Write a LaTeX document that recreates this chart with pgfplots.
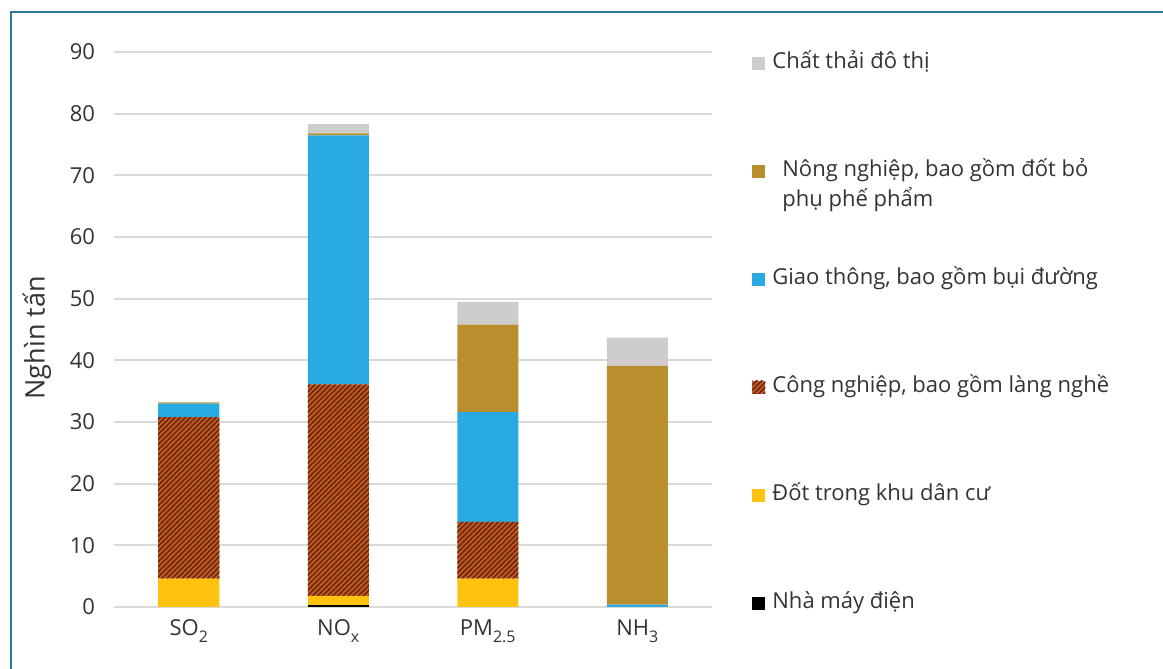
\documentclass[border=0pt]{standalone}
\usepackage{fontspec}
\setmainfont{Open Sans}
\usepackage{pgfplots}
\pgfplotsset{compat=1.18}
\usetikzlibrary{patterns.meta}
\definecolor{cwaste}{HTML}{CFCDCC}
\definecolor{cagri}{HTML}{B98E2F}
\definecolor{ctrans}{HTML}{29ABE2}
\definecolor{cind}{HTML}{C8561F}
\definecolor{cindd}{HTML}{5A2713}
\definecolor{cres}{HTML}{FFC20F}
\definecolor{cframe}{HTML}{2B7A99}
\definecolor{cgrid}{HTML}{D9D9D9}
\definecolor{ctext}{HTML}{333333}
\newcommand{\sub}[1]{\raisebox{-3.2pt}{\fontsize{8}{8}\selectfont #1}}
\begin{document}
\begin{tikzpicture}[x=1pt,y=1pt]
\useasboundingbox (0,0) rectangle (581.5,334.5);
\draw[cframe, line width=0.8pt] (5.5,0) -- (5.5,328.5) -- (581.5,328.5);
\begin{axis}[
  at={(57pt,31pt)}, anchor=south west,
  scale only axis, width=299pt, height=277.5pt,
  ybar stacked, bar width=30.5pt,
  xmin=-0.5, xmax=3.5, ymin=0, ymax=90,
  xtick={0,1,2,3},
  xticklabels={SO\sub{2}, NO\sub{x}, PM\sub{2.5}, NH\sub{3}},
  ytick={0,10,...,90},
  ymajorgrids, major grid style={cgrid, line width=1pt},
  axis line style={draw=none},
  major tick length=0pt,
  font=\fontsize{11}{13.2}\selectfont,
  tick label style={text=ctext},
  /pgf/number format/assume math mode=true,
  yticklabel style={anchor=east, xshift=-6pt},
  xticklabel style={anchor=base, yshift=-14.5pt},
  ylabel={Nghìn tấn},
  y label style={at={(axis description cs:-0.1288,0.485)}, anchor=center, text=ctext, font=\fontsize{13.5}{16}\selectfont},
  reverse legend,
  legend image code/.code={\fill[#1] (0pt,-3.25pt) rectangle (6.5pt,3.25pt);},
  legend style={at={(1.0669,1.005)}, anchor=north west, draw=none, fill=none,
    inner sep=0pt, row sep=40.5pt, text=ctext,
    nodes={text height=8pt, text depth=2.5pt, inner sep=1.5pt},
    /tikz/every odd column/.append style={column sep=2pt},
    cells={anchor=west}},
]
\addplot+[draw=none, fill=black] coordinates {(0,0) (1,0.3) (2,0) (3,0)};
\addplot+[draw=none, fill=cres] coordinates {(0,4.6) (1,1.5) (2,4.6) (3,0)};
\addplot+[draw=none, fill=cind, postaction={pattern={Lines[angle=45,distance=1.8pt,line width=0.7pt]}, pattern color=cindd}] coordinates {(0,26.2) (1,34.3) (2,9.2) (3,0)};
\addplot+[draw=none, fill=ctrans] coordinates {(0,2.2) (1,40.4) (2,17.8) (3,0.4)};
\addplot+[draw=none, fill=cagri] coordinates {(0,0.2) (1,0.3) (2,14.2) (3,38.7)};
\addplot+[draw=none, fill=cwaste] coordinates {(0,0) (1,1.5) (2,3.7) (3,4.6)};
\legend{Nhà máy điện, Đốt trong khu dân cư, {Công nghiệp, bao gồm làng nghề}, {Giao thông, bao gồm bụi đường}, {\hspace{5pt}\parbox[t]{170pt}{\baselineskip=15pt Nông nghiệp, bao gồm đốt bỏ\\phụ phế phẩm}}, Chất thải đô thị}
\end{axis}
\end{tikzpicture}
\end{document}
